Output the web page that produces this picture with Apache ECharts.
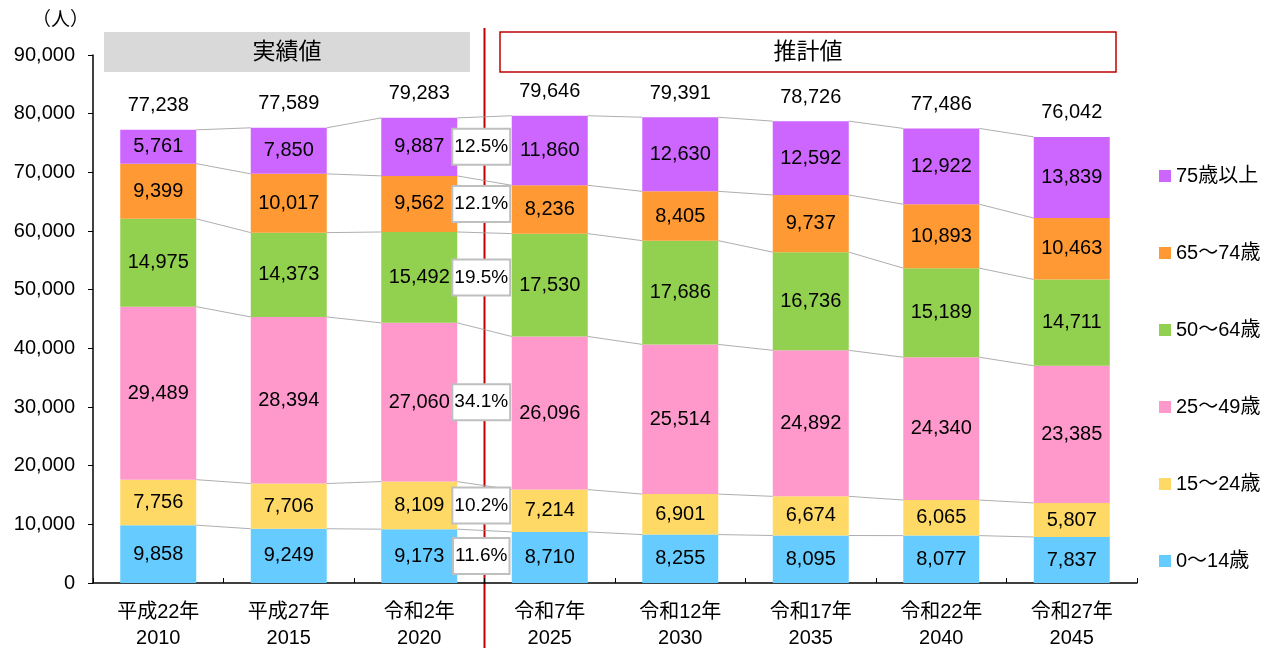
<!DOCTYPE html>
<html>
<head>
<meta charset="utf-8">
<script src="https://cdn.jsdelivr.net/npm/echarts@6/dist/echarts.min.js"></script>
<style>
  html, body { margin: 0; padding: 0; background: #fff; }
  #chart { width: 1271px; height: 648px; }
</style>
</head>
<body>
<div id="chart"></div>
<script>
var categories = ['平成22年\n2010', '平成27年\n2015', '令和2年\n2020', '令和7年\n2025', '令和12年\n2030', '令和17年\n2035', '令和22年\n2040', '令和27年\n2045'];
var age0_14   = [9858, 9249, 9173, 8710, 8255, 8095, 8077, 7837];
var age15_24  = [7756, 7706, 8109, 7214, 6901, 6674, 6065, 5807];
var age25_49  = [29489, 28394, 27060, 26096, 25514, 24892, 24340, 23385];
var age50_64  = [14975, 14373, 15492, 17530, 17686, 16736, 15189, 14711];
var age65_74  = [9399, 10017, 9562, 8236, 8405, 9737, 10893, 10463];
var age75plus = [5761, 7850, 9887, 11860, 12630, 12592, 12922, 13839];
var totals    = [77238, 77589, 79283, 79646, 79391, 78726, 77486, 76042];
// 2020年の構成比（下から）
var share2020 = ['11.6%', '10.2%', '34.1%', '19.5%', '12.1%', '12.5%'];

var names  = ['0～14歳', '15～24歳', '25～49歳', '50～64歳', '65～74歳', '75歳以上'];
var colors = ['#66CCFF', '#FFD966', '#FF99CC', '#92D050', '#FF9933', '#CC66FF'];
var groups = [age0_14, age15_24, age25_49, age50_64, age65_74, age75plus];

var FONT = '"Liberation Sans", Arial, "Noto Sans CJK JP", sans-serif';
var BAR_W = 76;

function fmt(v) {
  return String(v).replace(/\B(?=(\d{3})+(?!\d))/g, ',');
}

// 累積値（各区分の上端）
var cumTop = [];
var run = categories.map(function () { return 0; });
groups.forEach(function (g) {
  run = run.map(function (r, i) { return r + g[i]; });
  cumTop.push(run.slice());
});

var series = groups.map(function (g, k) {
  return {
    name: names[k],
    type: 'bar',
    stack: 'total',
    barWidth: BAR_W,
    data: g,
    itemStyle: { color: colors[k] },
    label: {
      show: true,
      position: 'inside',
      color: '#000',
      fontSize: 20,
      fontFamily: FONT,
      formatter: function (p) { return fmt(p.value); }
    }
  };
});

// 区分境界を結ぶ線
series.push({
  type: 'custom',
  silent: true,
  z: 1,
  data: [0, 1, 2, 3, 4, 5, 6].map(function (i) { return [i, 0]; }),
  encode: { x: 0, y: 1 },
  renderItem: function (params, api) {
    var i = api.value(0);
    var children = cumTop.map(function (c) {
      var a = api.coord([i, c[i]]);
      var b = api.coord([i + 1, c[i + 1]]);
      return {
        type: 'line',
        shape: { x1: a[0] + BAR_W / 2, y1: a[1], x2: b[0] - BAR_W / 2, y2: b[1] },
        style: { stroke: '#999', lineWidth: 0.8 }
      };
    });
    return { type: 'group', children: children };
  }
});

// 合計ラベル
series.push({
  type: 'scatter',
  symbolSize: 0,
  silent: true,
  itemStyle: { opacity: 1 },
  data: totals.map(function (t, i) { return [i, t]; }),
  label: {
    show: true,
    position: 'top',
    distance: 14,
    color: '#000',
    fontSize: 20,
    fontFamily: FONT,
    formatter: function (p) { return fmt(p.value[1]); }
  }
});

// 2020年構成比ラベル
series.push({
  type: 'scatter',
  symbolSize: 0,
  silent: true,
  z: 5,
  itemStyle: { opacity: 1 },
  data: groups.map(function (g, k) {
    var below = k === 0 ? 0 : cumTop[k - 1][2];
    return [2, below + g[2] / 2, share2020[k]];
  }),
  label: {
    show: true,
    position: 'inside',
    offset: [62, 0],
    color: '#000',
    fontSize: 19,
    fontFamily: FONT,
    backgroundColor: '#fff',
    borderColor: '#bfbfbf',
    borderWidth: 2,
    padding: [8, 1, 7, 1],
    formatter: function (p) { return p.value[2]; }
  }
});

var chart = echarts.init(document.getElementById('chart'));
chart.setOption({
  animation: false,
  grid: { left: 93, right: 134, top: 55, bottom: 65, outerBoundsMode: 'none' },
  legend: {
    orient: 'vertical',
    left: 1154,
    top: 161,
    itemWidth: 12,
    itemHeight: 12,
    itemGap: 57,
    icon: 'rect',
    data: names.slice().reverse(),
    textStyle: { fontSize: 20, color: '#000', fontFamily: FONT }
  },
  xAxis: {
    type: 'category',
    data: categories,
    axisLine: { lineStyle: { color: '#000', width: 1.5 } },
    axisTick: { show: true, inside: true, length: 5, lineStyle: { color: '#000' } },
    axisLabel: { color: '#000', fontSize: 20, lineHeight: 26, margin: 16, fontFamily: FONT }
  },
  yAxis: {
    type: 'value',
    min: 0,
    max: 90000,
    interval: 10000,
    splitLine: { show: false },
    axisLine: { show: true, lineStyle: { color: '#000', width: 1.5 } },
    axisTick: { show: true, length: 5, lineStyle: { color: '#000' } },
    axisLabel: { color: '#000', fontSize: 20, margin: 18, fontFamily: FONT, formatter: function (v) { return fmt(v); } }
  },
  graphic: [
    { type: 'text', left: 32, top: 11, style: { text: '（人）', fontSize: 19, fill: '#000', fontFamily: FONT } },
    { type: 'rect', shape: { x: 104, y: 32, width: 366, height: 40 }, style: { fill: '#d9d9d9' } },
    { type: 'text', x: 287, y: 53, style: { text: '実績値', fontSize: 23, fill: '#000', fontFamily: FONT, align: 'center', verticalAlign: 'middle' } },
    { type: 'rect', shape: { x: 500, y: 32, width: 616, height: 40 }, style: { fill: '#fff', stroke: '#c00000', lineWidth: 1.5 } },
    { type: 'text', x: 808, y: 53, style: { text: '推計値', fontSize: 23, fill: '#000', fontFamily: FONT, align: 'center', verticalAlign: 'middle' } },
    { type: 'line', shape: { x1: 484.5, y1: 28, x2: 484.5, y2: 648 }, style: { stroke: '#c00000', lineWidth: 2 } }
  ],
  series: series
});
</script>
</body>
</html>
